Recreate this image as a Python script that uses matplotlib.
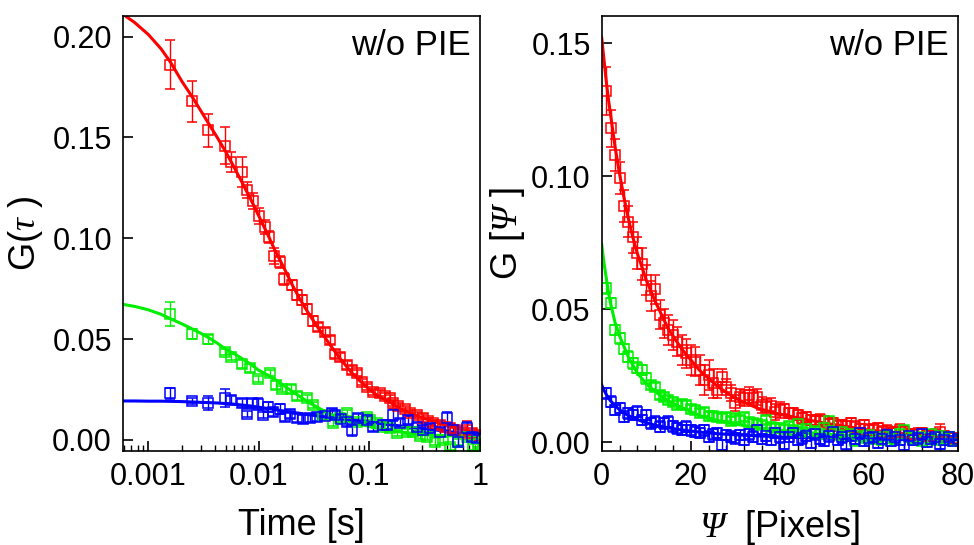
import matplotlib
matplotlib.use("Agg")
import matplotlib.pyplot as plt
from matplotlib.ticker import FixedLocator, NullFormatter, MultipleLocator

plt.rcParams["font.family"] = ["Liberation Sans", "DejaVu Sans"]
plt.rcParams["mathtext.fontset"] = "custom"
plt.rcParams["mathtext.rm"] = "Liberation Sans"
plt.rcParams["mathtext.it"] = "Liberation Serif:italic"
plt.rcParams["mathtext.sf"] = "Liberation Serif:italic"

RED = "#ff0000"
GREEN = "#00ee00"
BLUE = "#0000ff"

# ---- left panel: temporal correlation, G(tau) vs lag time [s]
tau_red = [1.57e-3, 2.50e-3, 3.49e-3, 4.98e-3, 5.57e-3, 7.05e-3, 7.87e-3, 8.91e-3, 9.98e-3,
           1.14e-2, 1.24e-2, 1.37e-2, 1.56e-2, 1.70e-2, 1.98e-2, 2.20e-2, 2.44e-2, 2.75e-2,
           3.07e-2, 3.45e-2, 3.97e-2, 4.41e-2, 4.89e-2, 5.43e-2, 6.24e-2, 6.93e-2, 7.69e-2,
           8.53e-2, 9.46e-2, 0.109, 0.125, 0.139, 0.154, 0.165, 0.183, 0.210, 0.233, 0.268,
           0.308, 0.342, 0.379, 0.436, 0.484, 0.537, 0.597, 0.686, 0.761, 0.845, 0.937]
g_red = [0.1860, 0.1678, 0.1535, 0.1459, 0.1378, 0.1327, 0.1238, 0.1183, 0.1109,
         0.1056, 0.1006, 0.0911, 0.0883, 0.0797, 0.0767, 0.0718, 0.0693, 0.0647,
         0.0589, 0.0558, 0.0536, 0.0495, 0.0426, 0.0409, 0.0371, 0.0347, 0.0333,
         0.0289, 0.0264, 0.0239, 0.0234, 0.0218, 0.0206, 0.0185, 0.0168, 0.0152, 0.0135, 0.0124,
         0.0107, 0.0096, 0.0086, 0.0074, 0.0066, 0.0058, 0.0050, 0.0041, 0.0050, 0.0033, 0.0025]
err_red = [0.0122, 0.0104, 0.0083, 0.0093, 0.0050, 0.0074, 0.0040, 0.0040, 0.0040,
           0.0035, 0.0030, 0.0040, 0.0030, 0.0030, 0.0025, 0.0025, 0.0025, 0.0025,
           0.0025, 0.0020, 0.0020, 0.0020, 0.0020, 0.0020, 0.0020, 0.0020, 0.0015,
           0.0015, 0.0015, 0.0015, 0.0015, 0.0015, 0.0015, 0.0015, 0.0015, 0.0015, 0.0015, 0.0015,
           0.0020, 0.0015, 0.0015, 0.0020, 0.0015, 0.0020, 0.0020, 0.0020, 0.0045, 0.0020, 0.0020]

tau_green = [1.57e-3, 2.50e-3, 3.49e-3, 4.99e-3, 5.57e-3, 7.08e-3, 8.32e-3, 9.90e-3, 1.25e-2,
             1.42e-2, 1.62e-2, 1.94e-2, 2.22e-2, 2.73e-2, 3.11e-2, 3.83e-2, 4.72e-2, 5.43e-2,
             6.24e-2, 7.69e-2, 9.46e-2, 0.1014, 0.1167, 0.134, 0.154, 0.177, 0.218, 0.250,
             0.288, 0.330, 0.393, 0.465, 0.537, 0.635, 0.761, 0.873, 0.963]
g_green = [0.0624, 0.0525, 0.0498, 0.0437, 0.0412, 0.0376, 0.0355, 0.0302, 0.0333,
           0.0274, 0.0252, 0.0252, 0.0218, 0.0206, 0.0173, 0.0124, 0.0083, 0.0109,
           0.0132, 0.0091, 0.0115, 0.0099, 0.0083, 0.0066, 0.0059, 0.0033, 0.0041, 0.0041,
           0.0020, 0.0015, -0.0008, 0.0000, -0.0033, -0.0010, 0.0016, -0.0033, -0.0020]
err_green = [0.0058, 0.0025, 0.0022, 0.0015, 0.0015, 0.0018, 0.0020, 0.0015, 0.0015,
             0.0020, 0.0015, 0.0020, 0.0020, 0.0015, 0.0015, 0.0015, 0.0015, 0.0015,
             0.0015, 0.0015, 0.0015, 0.0015, 0.0015, 0.0015, 0.0015, 0.0015, 0.0015, 0.0015,
             0.0015, 0.0015, 0.0015, 0.0015, 0.0015, 0.0015, 0.0015, 0.0015, 0.0015]

tau_blue = [1.57e-3, 2.50e-3, 3.49e-3, 4.98e-3, 5.57e-3, 7.00e-3, 7.87e-3, 8.68e-3, 9.90e-3,
            1.10e-2, 1.22e-2, 1.35e-2, 1.56e-2, 1.73e-2, 1.92e-2, 2.20e-2, 2.53e-2, 2.90e-2,
            3.34e-2, 3.97e-2, 4.57e-2, 4.89e-2, 5.54e-2, 6.24e-2, 6.93e-2, 7.94e-2, 9.46e-2,
            0.1087, 0.134, 0.144, 0.165, 0.190, 0.225, 0.268, 0.308, 0.354, 0.436, 0.502,
            0.575, 0.639, 0.761, 0.845, 0.943]
g_blue = [0.0231, 0.0193, 0.0185, 0.0206, 0.0198, 0.0182, 0.0127, 0.0185, 0.0178,
          0.0124, 0.0162, 0.0140, 0.0152, 0.0112, 0.0129, 0.0110, 0.0102, 0.0107,
          0.0115, 0.0119, 0.0132, 0.0124, 0.0104, 0.0091, 0.0050, 0.0107, 0.0099,
          0.0066, 0.0074, 0.0074, 0.0124, 0.0086, 0.0099, 0.0066, 0.0050, 0.0058, 0.0041, 0.0107,
          0.0050, -0.0008, 0.0058, 0.0016, 0.0008]
err_blue = [0.0026, 0.0015, 0.0035, 0.0045, 0.0020, 0.0020, 0.0015, 0.0020, 0.0030,
            0.0015, 0.0025, 0.0020, 0.0025, 0.0020, 0.0020, 0.0020, 0.0020, 0.0020,
            0.0020, 0.0020, 0.0020, 0.0020, 0.0020, 0.0020, 0.0030, 0.0020, 0.0020,
            0.0020, 0.0020, 0.0020, 0.0030, 0.0020, 0.0020, 0.0020, 0.0020, 0.0020, 0.0020, 0.0030,
            0.0020, 0.0020, 0.0030, 0.0020, 0.0020]

# fitted curves
fit_tau = [5.9e-4, 7.5e-4, 1e-3, 1.3e-3, 1.6e-3, 2e-3, 2.5e-3, 3e-3, 3.5e-3, 4.2e-3, 5e-3,
           6e-3, 7e-3, 8.5e-3, 1e-2, 1.2e-2, 1.4e-2, 1.7e-2, 2e-2, 2.4e-2, 2.8e-2, 3.3e-2,
           4e-2, 4.7e-2, 5.5e-2, 7e-2, 0.085, 0.1, 0.12, 0.15, 0.2, 0.25, 0.3, 0.4, 0.5, 0.7, 1.0]
fit_red = [0.211, 0.207, 0.201, 0.194, 0.187, 0.178, 0.170, 0.163, 0.157, 0.150, 0.143,
           0.135, 0.128, 0.119, 0.111, 0.102, 0.094, 0.085, 0.077, 0.069, 0.063, 0.057,
           0.0505, 0.045, 0.040, 0.033, 0.0285, 0.025, 0.0218, 0.019, 0.015, 0.0128, 0.011,
           0.0087, 0.0070, 0.0050, 0.0033]
fit_green = [0.0672, 0.0662, 0.0645, 0.0623, 0.0600, 0.0576, 0.0550, 0.0528, 0.0507, 0.0480, 0.0450,
             0.0427, 0.0404, 0.0374, 0.0345, 0.0322, 0.0300, 0.0268, 0.0240, 0.0212, 0.0187, 0.0165,
             0.0140, 0.0122, 0.0106, 0.0088, 0.0076, 0.0066, 0.0056, 0.0046, 0.0038, 0.0032, 0.0027,
             0.0023, 0.0021, 0.0019, 0.0017]
fit_blue = [0.0193, 0.0193, 0.0192, 0.0192, 0.0191, 0.0190, 0.0188, 0.0186, 0.0185, 0.0183, 0.0180,
            0.0177, 0.0173, 0.0168, 0.0162, 0.0156, 0.0150, 0.0143, 0.0137, 0.0131, 0.0125, 0.0120,
            0.0114, 0.0109, 0.0105, 0.0099, 0.0093, 0.0088, 0.0083, 0.0076, 0.0068, 0.0062, 0.0057,
            0.0049, 0.0042, 0.0033, 0.0025]

# ---- right panel: spatial correlation, G[psi] vs pixel lag
psi = list(range(1, 81))
gp_red = [0.1320, 0.1180, 0.1080, 0.0995, 0.0890, 0.0830, 0.0770, 0.0710, 0.0670, 0.0610,
          0.0550, 0.0575, 0.0480, 0.0447, 0.0422, 0.0403, 0.0378, 0.0347, 0.0334, 0.0309,
          0.0303, 0.0272, 0.0234, 0.0253, 0.0222, 0.0197, 0.0247, 0.0209, 0.0184, 0.0146,
          0.0171, 0.0165, 0.0178, 0.0165, 0.0171, 0.0140, 0.0134, 0.0135, 0.0115, 0.0122,
          0.0124, 0.0110, 0.0109, 0.0103, 0.0090, 0.0095, 0.0084, 0.0080, 0.0085, 0.0078,
          0.0068, 0.0072, 0.0062, 0.0065, 0.0060, 0.0072, 0.0058, 0.0050, 0.0065, 0.0047,
          0.0047, 0.0052, 0.0040, 0.0043, 0.0035, 0.0038, 0.0047, 0.0040, 0.0030, 0.0028,
          0.0032, 0.0034, 0.0025, 0.0022, 0.0028, 0.0040, 0.0022, 0.0018, 0.0015, 0.0012]
ep_red = [0.0090, 0.0070, 0.0060, 0.0060, 0.0060, 0.0060, 0.0060, 0.0060, 0.0060, 0.0055,
          0.0055, 0.0055, 0.0055, 0.0055, 0.0055, 0.0055, 0.0055, 0.0055, 0.0055, 0.0055,
          0.0055, 0.0055, 0.0055, 0.0055, 0.0055, 0.0030, 0.0030, 0.0030, 0.0030, 0.0030,
          0.0030, 0.0030, 0.0030, 0.0030, 0.0030, 0.0030, 0.0030, 0.0030, 0.0030, 0.0030,
          0.0020, 0.0020, 0.0020, 0.0020, 0.0020, 0.0020, 0.0020, 0.0020, 0.0020, 0.0020,
          0.0020, 0.0020, 0.0020, 0.0020, 0.0020, 0.0020, 0.0020, 0.0020, 0.0020, 0.0020,
          0.0020, 0.0020, 0.0020, 0.0020, 0.0020, 0.0020, 0.0020, 0.0020, 0.0020, 0.0020,
          0.0020, 0.0020, 0.0020, 0.0020, 0.0020, 0.0030, 0.0020, 0.0020, 0.0020, 0.0020]
gp_green = [0.0579, 0.0523, 0.0422, 0.0391, 0.0350, 0.0322, 0.0297, 0.0280, 0.0272, 0.0240,
            0.0215, 0.0209, 0.0178, 0.0170, 0.0160, 0.0150, 0.0140, 0.0142, 0.0140, 0.0125,
            0.0121, 0.0109, 0.0115, 0.0100, 0.0098, 0.0096, 0.0090, 0.0096, 0.0080, 0.0090,
            0.0085, 0.0096, 0.0075, 0.0071, 0.0070, 0.0065, 0.0084, 0.0059, 0.0055, 0.0052,
            0.0050, 0.0062, 0.0045, 0.0070, 0.0040, 0.0048, 0.0035, 0.0042, 0.0030, 0.0055,
            0.0078, 0.0035, 0.0028, 0.0040, 0.0025, 0.0030, 0.0005, 0.0022, 0.0015, 0.0028,
            0.0012, 0.0020, 0.0008, 0.0025, 0.0015, 0.0010, 0.0030, 0.0045, 0.0018, 0.0012,
            0.0020, 0.0005, 0.0015, 0.0030, 0.0010, 0.0025, 0.0012, 0.0020, 0.0003, 0.0010]
ep_green = [0.0020, 0.0020, 0.0020, 0.0020, 0.0020, 0.0020, 0.0020, 0.0020, 0.0020, 0.0020,
            0.0015, 0.0015, 0.0015, 0.0015, 0.0015, 0.0015, 0.0015, 0.0015, 0.0015, 0.0015,
            0.0015, 0.0015, 0.0015, 0.0015, 0.0015, 0.0015, 0.0015, 0.0015, 0.0015, 0.0015,
            0.0015, 0.0015, 0.0015, 0.0015, 0.0015, 0.0015, 0.0015, 0.0015, 0.0015, 0.0015,
            0.0015, 0.0015, 0.0015, 0.0015, 0.0015, 0.0015, 0.0015, 0.0015, 0.0015, 0.0015,
            0.0015, 0.0015, 0.0015, 0.0015, 0.0015, 0.0015, 0.0015, 0.0015, 0.0015, 0.0015,
            0.0015, 0.0015, 0.0015, 0.0015, 0.0015, 0.0015, 0.0015, 0.0015, 0.0015, 0.0015,
            0.0015, 0.0015, 0.0015, 0.0015, 0.0015, 0.0015, 0.0015, 0.0015, 0.0015, 0.0015]
gp_blue = [0.0184, 0.0153, 0.0121, 0.0128, 0.0096, 0.0109, 0.0103, 0.0115, 0.0084, 0.0103,
           0.0071, 0.0077, 0.0059, 0.0071, 0.0077, 0.0060, 0.0052, 0.0046, 0.0059, 0.0045,
           0.0040, 0.0034, 0.0045, 0.0021, 0.0030, 0.0035, -0.0010, 0.0027, 0.0021, 0.0015,
           0.0027, 0.0010, 0.0030, 0.0021, 0.0045, 0.0012, 0.0025, 0.0009, 0.0034, 0.0018,
           -0.0005, 0.0020, 0.0035, 0.0008, 0.0015, 0.0025, -0.0002, 0.0030, 0.0012, 0.0005,
           0.0022, 0.0040, 0.0010, 0.0018, -0.0008, 0.0025, 0.0012, 0.0035, 0.0005, 0.0015,
           0.0020, -0.0003, 0.0012, 0.0028, 0.0005, 0.0018, 0.0010, -0.0010, 0.0022, 0.0008,
           0.0015, 0.0030, 0.0002, 0.0012, 0.0020, -0.0005, 0.0010, 0.0018, 0.0005, 0.0012]
ep_blue = [0.0020, 0.0020, 0.0020, 0.0020, 0.0020, 0.0020, 0.0020, 0.0020, 0.0020, 0.0020,
           0.0020, 0.0020, 0.0020, 0.0020, 0.0020, 0.0020, 0.0020, 0.0020, 0.0020, 0.0020,
           0.0020, 0.0020, 0.0020, 0.0020, 0.0020, 0.0020, 0.0020, 0.0020, 0.0020, 0.0020,
           0.0020, 0.0020, 0.0020, 0.0020, 0.0020, 0.0020, 0.0020, 0.0020, 0.0020, 0.0020,
           0.0020, 0.0020, 0.0020, 0.0020, 0.0020, 0.0020, 0.0020, 0.0020, 0.0020, 0.0020,
           0.0020, 0.0020, 0.0020, 0.0020, 0.0020, 0.0020, 0.0020, 0.0020, 0.0020, 0.0020,
           0.0020, 0.0020, 0.0020, 0.0020, 0.0020, 0.0020, 0.0020, 0.0020, 0.0020, 0.0020,
           0.0020, 0.0020, 0.0020, 0.0020, 0.0020, 0.0020, 0.0020, 0.0020, 0.0020, 0.0020]

fit_psi = [0, 0.5, 1, 1.5, 2, 3, 4, 5, 6, 7, 8, 10, 12, 15, 18, 22, 26, 30, 35, 40, 50, 60, 70, 80]
fitp_red = [0.152, 0.144, 0.136, 0.129, 0.123, 0.111, 0.101, 0.092, 0.084, 0.077, 0.071, 0.061, 0.053,
            0.0425, 0.035, 0.027, 0.021, 0.0165, 0.0128, 0.0105, 0.0072, 0.0046, 0.0029, 0.0016]
fitp_green = [0.0743, 0.0675, 0.062, 0.0565, 0.052, 0.045, 0.040, 0.036, 0.032, 0.029, 0.026, 0.022,
              0.019, 0.0155, 0.013, 0.010, 0.0082, 0.0068, 0.0055, 0.0045, 0.0031, 0.0022, 0.0015,
              0.0010]
fitp_blue = [0.0215, 0.0196, 0.018, 0.0166, 0.0155, 0.0138, 0.0122, 0.011, 0.010, 0.0092, 0.0085,
             0.0073, 0.0064, 0.0054, 0.0046, 0.0038, 0.0032, 0.0028, 0.0024, 0.0020, 0.0015, 0.0012,
             0.0010, 0.0009]

TICK_FS = 22
LABEL_FS = 26
NOTE_FS = 25

fig = plt.figure(figsize=(9.74, 5.45), dpi=100)
ax1 = fig.add_axes([0.1263, 0.1725, 0.3663, 0.7982])
ax2 = fig.add_axes([0.6178, 0.1725, 0.3655, 0.7982])

eb = dict(fmt="s", ms=7.2, mfc="none", mew=1.1, elinewidth=1.0, capsize=3.8, capthick=1.0)

for x, y, e, c in [(tau_red, g_red, err_red, RED),
                   (tau_green, g_green, err_green, GREEN),
                   (tau_blue, g_blue, err_blue, BLUE)]:
    ax1.errorbar(x, y, yerr=e, color=c, mec=c, **eb)
for y, c in [(fit_red, RED), (fit_green, GREEN), (fit_blue, BLUE)]:
    ax1.plot(fit_tau, y, color=c, lw=2.2)

for y, e, c in [(gp_red, ep_red, RED), (gp_green, ep_green, GREEN), (gp_blue, ep_blue, BLUE)]:
    ax2.errorbar(psi, y, yerr=e, color=c, mec=c, **eb)
for y, c in [(fitp_red, RED), (fitp_green, GREEN), (fitp_blue, BLUE)]:
    ax2.plot(fit_psi, y, color=c, lw=2.2)

# left axes
ax1.set_xscale("log")
ax1.set_xlim(5.9e-4, 1.0)
ax1.set_ylim(-0.0055, 0.2102)
ax1.set_xticks([0.001, 0.01, 0.1, 1])
ax1.set_xticklabels(["0.001", "0.01", "0.1", "1"])
ax1.xaxis.set_minor_locator(FixedLocator(
    [m * 10.0 ** d for d in (-4, -3, -2, -1) for m in range(2, 10)]))
ax1.xaxis.set_minor_formatter(NullFormatter())
ax1.set_yticks([0.0, 0.05, 0.10, 0.15, 0.20])
ax1.set_yticklabels(["0.00", "0.05", "0.10", "0.15", "0.20"])
ax1.set_xlabel("Time [s]", fontsize=LABEL_FS)
ax1.set_ylabel(r"G($\tau$ )", fontsize=LABEL_FS)
ax1.text(0.975, 0.933, "w/o PIE", transform=ax1.transAxes, ha="right", va="center",
         fontsize=NOTE_FS)

# right axes
ax2.set_xlim(0, 80)
ax2.set_ylim(-0.0033, 0.1603)
ax2.set_xticks([0, 20, 40, 60, 80])
ax2.xaxis.set_minor_locator(MultipleLocator(4))
ax2.set_yticks([0.0, 0.05, 0.10, 0.15])
ax2.set_yticklabels(["0.00", "0.05", "0.10", "0.15"])
ax2.set_xlabel(r"$\mathsf{\Psi}$  [Pixels]", fontsize=LABEL_FS)
ax2.set_ylabel(r"G [$\mathsf{\Psi}$ ]", fontsize=LABEL_FS)
ax2.text(0.975, 0.933, "w/o PIE", transform=ax2.transAxes, ha="right", va="center",
         fontsize=NOTE_FS)

for ax in (ax1, ax2):
    for s in ax.spines.values():
        s.set_linewidth(1.2)
    ax.tick_params(axis="both", which="major", direction="in", length=7, width=1.2,
                   labelsize=TICK_FS, top=False, right=False, pad=8)
    ax.tick_params(axis="both", which="minor", direction="in", length=4, width=1.0,
                   top=False, right=False)
    ax.xaxis.set_label_coords(0.5, -0.13)

ax1.yaxis.set_label_coords(-0.22, 0.5)
ax2.yaxis.set_label_coords(-0.21, 0.5)

fig.savefig("out.png", dpi=100)
